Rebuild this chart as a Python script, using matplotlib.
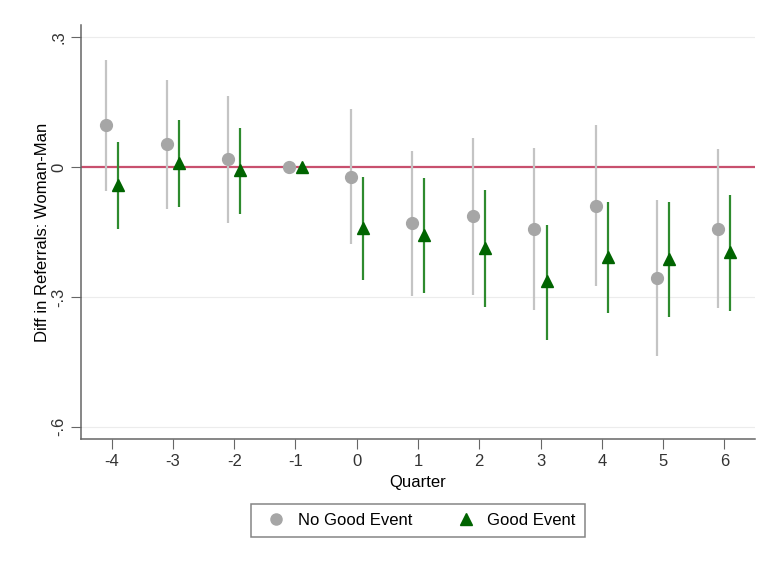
import matplotlib.pyplot as plt
from matplotlib.lines import Line2D
import numpy as np

plt.rcParams['font.family'] = ['Liberation Sans', 'DejaVu Sans']

quarters = [-4, -3, -2, -1, 0, 1, 2, 3, 4, 5, 6]

# No Good Event: point estimate, lower and upper CI
no_good = [0.096, 0.053, 0.018, 0.0, -0.024, -0.130, -0.113, -0.142, -0.090, -0.257, -0.142]
no_good_lo = [-0.055, -0.098, -0.130, 0.0, -0.178, -0.297, -0.295, -0.330, -0.275, -0.436, -0.326]
no_good_hi = [0.247, 0.202, 0.165, 0.0, 0.133, 0.038, 0.068, 0.045, 0.096, -0.076, 0.042]

# Good Event
good = [-0.041, 0.010, -0.008, 0.0, -0.141, -0.156, -0.187, -0.264, -0.208, -0.212, -0.196]
good_lo = [-0.144, -0.093, -0.108, 0.0, -0.262, -0.292, -0.324, -0.399, -0.338, -0.347, -0.332]
good_hi = [0.057, 0.108, 0.091, 0.0, -0.022, -0.026, -0.053, -0.134, -0.080, -0.080, -0.065]

x = np.array(quarters, dtype=float)
fig = plt.figure(figsize=(7.68, 5.62), dpi=100)
ax = fig.add_axes([0.1055, 0.219, 0.8775, 0.7365])

gray_line = '#c4c4c4'
gray_mark = '#a6a6a6'
green_line = '#2e8b2e'
green_mark = '#006400'

ax.axhline(0, color='#c8506e', lw=1.6, zorder=1)
for yg in [0.3, -0.3, -0.6]:
    ax.axhline(yg, color='#ececec', lw=0.8, zorder=0)

xg = x - 0.1
xe = x + 0.1
ax.vlines(xg, no_good_lo, no_good_hi, color=gray_line, lw=1.6, zorder=2)
ax.plot(xg, no_good, 'o', color=gray_mark, ms=8.5, zorder=3)
ax.vlines(xe, good_lo, good_hi, color=green_line, lw=1.6, zorder=2)
ax.plot(xe, good, '^', color=green_mark, ms=8.5, zorder=4)

ax.set_xlim(-4.5, 6.5)
ax.set_ylim(-0.628, 0.328)
ax.set_xticks(quarters)
ax.set_xticklabels([str(q) for q in quarters])
ax.set_yticks([0.3, 0, -0.3, -0.6])
ax.set_yticklabels(['.3', '0', '-.3', '-.6'], rotation=90, va='center')

for s in ['top', 'right']:
    ax.spines[s].set_visible(False)
for s in ['left', 'bottom']:
    ax.spines[s].set_color('#666666')
    ax.spines[s].set_linewidth(1.1)
ax.tick_params(colors='#333333', labelsize=12, length=7, color='#666666')

ax.set_xlabel('Quarter', fontsize=12, labelpad=5)
ax.set_ylabel('Diff in Referrals: Woman-Man', fontsize=12, labelpad=1)

handles = [
    Line2D([], [], marker='o', color=gray_mark, ls='none', ms=8),
    Line2D([], [], marker='^', color=green_mark, ls='none', ms=8),
]
leg = fig.legend(handles, ['No Good Event', 'Good Event'], loc='center',
                 bbox_to_anchor=(0.544, 0.074), ncol=2, fontsize=12,
                 frameon=True, fancybox=False, edgecolor='#666666',
                 handletextpad=0.3, columnspacing=2.2, borderpad=0.55)
leg.get_frame().set_linewidth(1.1)

fig.savefig('out.png', dpi=100, facecolor='white')
